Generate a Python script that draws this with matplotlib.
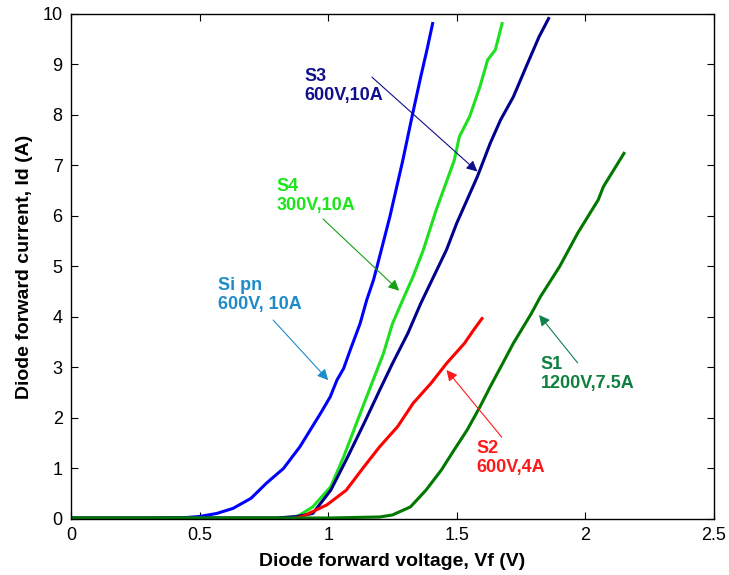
import matplotlib
matplotlib.use("Agg")
import matplotlib.pyplot as plt

plt.rcParams['font.family'] = ['Liberation Sans', 'DejaVu Sans']

# forward characteristics (V, A)
sipn_v = [0, 0.30, 0.45, 0.50, 0.567, 0.63, 0.70, 0.76, 0.826, 0.89, 0.93, 0.97, 1.008, 1.034,
          1.06, 1.086, 1.124, 1.15, 1.176, 1.19, 1.24, 1.29, 1.326, 1.36, 1.384, 1.406]
sipn_i = [0.02, 0.02, 0.03, 0.05, 0.11, 0.21, 0.41, 0.71, 1.0, 1.43, 1.76, 2.09, 2.42, 2.75,
          2.98, 3.35, 3.87, 4.34, 4.73, 5.0, 5.99, 7.1, 7.97, 8.76, 9.29, 9.81]

s4_v = [0, 0.80, 0.87, 0.89, 0.94, 1.01, 1.06, 1.12, 1.17, 1.215, 1.25, 1.29, 1.33, 1.37,
        1.42, 1.49, 1.51, 1.55, 1.59, 1.62, 1.65, 1.676]
s4_i = [0.02, 0.02, 0.04, 0.08, 0.24, 0.64, 1.23, 2.03, 2.69, 3.28, 3.87, 4.34, 4.8, 5.33,
        6.12, 7.1, 7.57, 7.97, 8.56, 9.09, 9.29, 9.81]

s3_v = [0, 0.80, 0.88, 0.94, 1.01, 1.07, 1.14, 1.20, 1.25, 1.31, 1.36, 1.41, 1.46, 1.50,
        1.58, 1.63, 1.67, 1.72, 1.77, 1.82, 1.857]
s3_i = [0.02, 0.02, 0.05, 0.11, 0.57, 1.17, 1.9, 2.55, 3.08, 3.68, 4.27, 4.8, 5.33, 5.86,
        6.78, 7.44, 7.9, 8.36, 8.96, 9.55, 9.91]

s2_v = [0, 0.85, 0.90, 0.995, 1.07, 1.14, 1.20, 1.27, 1.33, 1.40, 1.46, 1.53, 1.565, 1.598]
s2_i = [0.0, 0.0, 0.05, 0.28, 0.57, 1.04, 1.43, 1.83, 2.29, 2.69, 3.08, 3.48, 3.74, 3.97]

s1_v = [0, 1.0, 1.20, 1.25, 1.32, 1.38, 1.44, 1.49, 1.54, 1.59, 1.63, 1.67, 1.72, 1.79,
        1.825, 1.90, 1.97, 2.01, 2.05, 2.07, 2.11, 2.15]
s1_i = [0.02, 0.02, 0.04, 0.08, 0.24, 0.57, 0.97, 1.37, 1.76, 2.22, 2.62, 3.0, 3.48, 4.07,
        4.4, 5.0, 5.66, 5.99, 6.32, 6.58, 6.91, 7.24]

# label text, text position, arrow tail, arrow head
labels = ["S3\n600V,10A", "S4\n300V,10A", "Si pn\n600V, 10A", "S2\n600V,4A", "S1\n1200V,7.5A"]
text_xy = [(0.907, 8.58), (0.80, 6.40), (0.573, 4.44), (1.576, 1.20), (1.825, 2.88)]
tail_xy = [(1.17, 8.75), (0.98, 5.94), (0.786, 3.94), (1.675, 1.62), (1.97, 3.09)]
head_xy = [(1.58, 6.88), (1.276, 4.52), (1.0, 2.75), (1.46, 2.95), (1.82, 4.04)]
text_col = ["#10108C", "#1AE61A", "#1E8CC8", "#FF1A1A", "#108040"]
arrow_col = ["#10108C", "#14A014", "#1E8CC8", "#FF1A1A", "#108050"]

fig = plt.figure(figsize=(7.29, 5.75), dpi=100)
ax = fig.add_axes([0.0974, 0.0974, 0.8820, 0.8783])

ax.plot(sipn_v, sipn_i, color="#0000FF", lw=2.2)
ax.plot(s4_v, s4_i, color="#1EE01E", lw=2.2)
ax.plot(s3_v, s3_i, color="#00008C", lw=2.2)
ax.plot(s2_v, s2_i, color="#FF0000", lw=2.2)
ax.plot(s1_v, s1_i, color="#007800", lw=2.2)

for lab, txy, t, h, tc, ac in zip(labels, text_xy, tail_xy, head_xy, text_col, arrow_col):
    ax.text(txy[0], txy[1], lab, color=tc, fontsize=13, fontweight="bold",
            ha="left", va="center", linespacing=1.15)
    ax.annotate("", xy=h, xytext=t,
                arrowprops=dict(arrowstyle="-|>", color=ac, lw=0.8,
                                mutation_scale=16, shrinkA=0, shrinkB=0))

ax.set_xlim(0, 2.5)
ax.set_ylim(0, 10)
ax.set_xticks([0, 0.5, 1, 1.5, 2, 2.5])
ax.set_xticklabels(["0", "0.5", "1", "1.5", "2", "2.5"])
ax.set_yticks(range(11))
ax.tick_params(direction="in", top=True, right=True, length=5, width=0.8,
               labelsize=13, pad=6)
for s in ax.spines.values():
    s.set_linewidth(1.0)

ax.set_xlabel("Diode forward voltage, Vf (V)", fontsize=14, fontweight="bold", labelpad=6)
ax.set_ylabel("Diode forward current, Id (A)", fontsize=14, fontweight="bold", labelpad=7)

fig.savefig("out.png", dpi=100)
